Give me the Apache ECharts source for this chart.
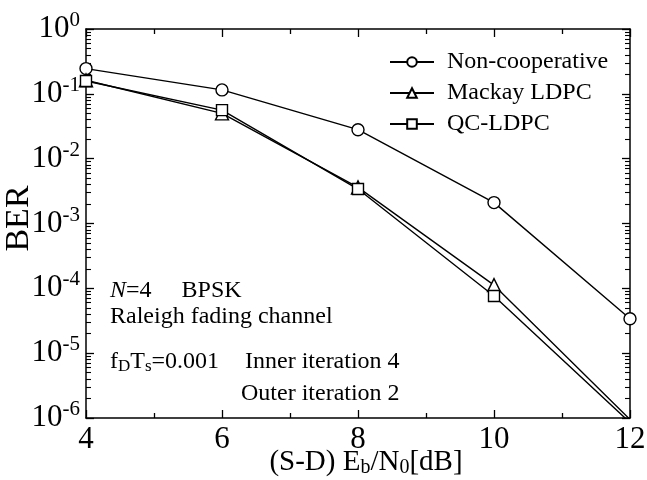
<!DOCTYPE html>
<html>
<head>
<meta charset="utf-8">
<script src="https://cdn.jsdelivr.net/npm/echarts@6/dist/echarts.min.js"></script>
<style>html,body{margin:0;padding:0;background:#fff}#c{width:647px;height:480px}</style>
</head>
<body>
<div id="c"></div>
<script>
var snr = [4, 6, 8, 10, 12];
var nonCoop = [0.245, 0.115, 0.028, 0.0021, 3.4e-5];
var mackay = [0.162, 0.050, 0.0036, 1.12e-4, 9.5e-7];
var qcLdpc = [0.158, 0.056, 0.0034, 7.6e-5, 8.5e-7];
var seriesNames = ['Non-cooperative', 'Mackay LDPC', 'QC-LDPC'];
var xTicks = [4, 6, 8, 10, 12];
var yMin = 1e-6, yMax = 1;

var FONT = 'Liberation Serif';
var minorVals = [];
for (var d = -6; d < 0; d++) for (var k = 2; k <= 9; k++) minorVals.push(k * Math.pow(10, d));

function pairs(ys) { return snr.map(function (x, i) { return [x, ys[i]]; }); }

var chart = echarts.init(document.getElementById('c'), null, { renderer: 'canvas' });
var axisLine = { show: true, onZero: false, lineStyle: { color: '#000', width: 1.5 } };
var yLabelRich = {
  b: { fontFamily: FONT, fontSize: 31, color: '#000' },
  s: { fontFamily: FONT, fontSize: 21, color: '#000', padding: [0, 0, 17, 0] }
};
function series(name, data, symbol, size) {
  return {
    name: name, type: 'line', data: pairs(data), symbol: symbol, symbolSize: size,
    xAxisIndex: 0, yAxisIndex: 0, clip: true,
    lineStyle: { color: '#000', width: 1.4 },
    itemStyle: { color: '#fff', borderColor: '#000', borderWidth: 1.4 },
    emphasis: { disabled: true }, animation: false
  };
}
var option = {
  animation: false,
  backgroundColor: '#fff',
  grid: { left: 86, right: 17, top: 29, bottom: 62, containLabel: false, outerBoundsMode: 'none' },
  legend: {
    orient: 'vertical', left: 384, top: 45, itemWidth: 44, itemHeight: 12, itemGap: 7,
    data: seriesNames,
    textStyle: { fontFamily: FONT, fontSize: 24, color: '#000', padding: [0, 0, 0, 8] },
    selectedMode: false
  },
  xAxis: [
    {
      type: 'value', min: 4, max: 12, interval: 2, position: 'bottom',
      axisLine: axisLine,
      axisTick: { show: true, inside: true, length: 8, lineStyle: { color: '#000', width: 1.3 } },
      minorTick: { show: true, splitNumber: 2, length: 5, lineStyle: { color: '#000', width: 1.3 } },
      splitLine: { show: false }, minorSplitLine: { show: false },
      axisLabel: { fontFamily: FONT, fontSize: 31, color: '#000', margin: 6 },
      name: '(S-D) E{sub|b}/N{sub|0}[dB]', nameLocation: 'middle', nameGap: 29, nameMoveOverlap: false,
      nameTextStyle: {
        fontFamily: FONT, fontSize: 29, color: '#000', padding: [0, 0, 0, 16],
        rich: { sub: { fontFamily: FONT, fontSize: 20, color: '#000', padding: [11, 0, 0, 0] } }
      }
    },
    {
      type: 'value', min: 4, max: 12, interval: 2, position: 'top',
      axisLine: axisLine,
      axisTick: { show: true, inside: true, length: 8, lineStyle: { color: '#000', width: 1.3 } },
      minorTick: { show: true, splitNumber: 2, length: 5, lineStyle: { color: '#000', width: 1.3 } },
      splitLine: { show: false }, axisLabel: { show: false }
    }
  ],
  yAxis: [
    {
      type: 'log', logBase: 10, min: yMin, max: yMax, position: 'left',
      axisLine: axisLine,
      axisTick: { show: true, inside: true, length: 8, lineStyle: { color: '#000', width: 1.3 } },
      splitLine: { show: false },
      axisLabel: {
        margin: 6, rich: yLabelRich,
        formatter: function (v) { return '{b|10}{s|' + Math.round(Math.log10(v)) + '}'; }
      },
      name: 'BER', nameLocation: 'middle', nameGap: 50, nameRotate: 90, nameMoveOverlap: false,
      nameTextStyle: { fontFamily: FONT, fontSize: 34, color: '#000', padding: [0, 0, 0, 10] }
    },
    {
      type: 'log', logBase: 10, min: yMin, max: yMax, position: 'right',
      axisLine: axisLine,
      axisTick: { show: true, inside: true, length: 8, lineStyle: { color: '#000', width: 1.3 } },
      splitLine: { show: false }, axisLabel: { show: false }
    },
    {
      type: 'log', logBase: 10, min: yMin, max: yMax, position: 'left',
      axisLine: { show: false },
      axisTick: { show: true, inside: true, length: 5, customValues: minorVals, lineStyle: { color: '#000', width: 1.1 } },
      splitLine: { show: false }, axisLabel: { show: false }
    },
    {
      type: 'log', logBase: 10, min: yMin, max: yMax, position: 'right',
      axisLine: { show: false },
      axisTick: { show: true, inside: true, length: 5, customValues: minorVals, lineStyle: { color: '#000', width: 1.1 } },
      splitLine: { show: false }, axisLabel: { show: false }
    }
  ],
  graphic: [
    { type: 'text', left: 110, top: 279, style: { text: '{i|N}=4     BPSK', font: '24px "Liberation Serif"', fill: '#000',
      rich: { i: { fontFamily: FONT, fontSize: 24, fontStyle: 'italic', fill: '#000' } } } },
    { type: 'text', left: 110, top: 305, style: { text: 'Raleigh fading channel', font: '24px "Liberation Serif"', fill: '#000' } },
    { type: 'text', left: 110, top: 350, style: { text: 'f{sub|D}T{sub|s}=0.001', font: '24px "Liberation Serif"', fill: '#000',
      rich: { sub: { fontFamily: FONT, fontSize: 17, fill: '#000', padding: [10, 0, 0, 0] } } } },
    { type: 'text', left: 245, top: 350, style: { text: 'Inner iteration 4', font: '24px "Liberation Serif"', fill: '#000' } },
    { type: 'text', left: 241, top: 382, style: { text: 'Outer iteration 2', font: '24px "Liberation Serif"', fill: '#000' } }
  ],
  series: [
    series(seriesNames[0], nonCoop, 'circle', 12),
    series(seriesNames[1], mackay, 'triangle', 13),
    series(seriesNames[2], qcLdpc, 'rect', 11)
  ]
};
chart.setOption(option);
</script>
</body>
</html>
